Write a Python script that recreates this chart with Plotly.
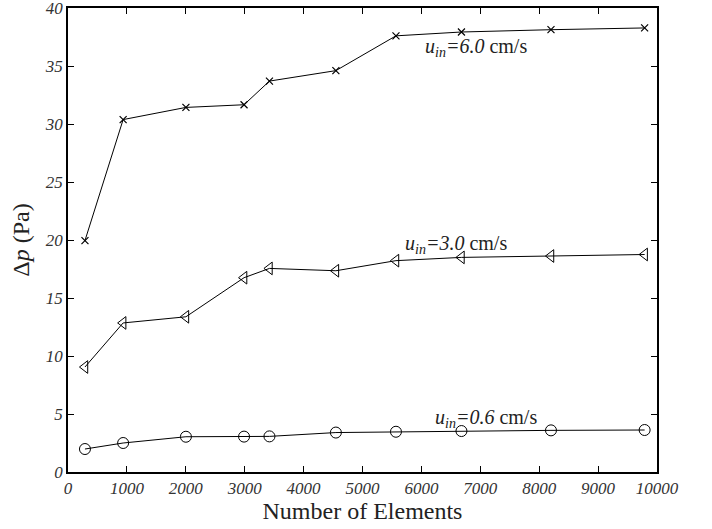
import plotly.graph_objects as go

elements = [288, 936, 2002, 2989, 3420, 4548, 5568, 6680, 8200, 9790]
dp_60 = [19.95, 30.38, 31.43, 31.66, 33.7, 34.6, 37.6, 37.93, 38.13, 38.28]
dp_30 = [9.05, 12.85, 13.38, 16.75, 17.55, 17.35, 18.22, 18.5, 18.62, 18.75]
dp_06 = [1.98, 2.5, 3.04, 3.05, 3.07, 3.4, 3.47, 3.53, 3.59, 3.62]

x_ticks = list(range(0, 10001, 1000))
y_ticks = list(range(0, 41, 5))

FONT = "Liberation Serif, Times New Roman, serif"

fig = go.Figure()
fig.add_trace(go.Scatter(x=elements, y=dp_60, mode="lines+markers",
                         line=dict(color="black", width=1),
                         marker=dict(symbol="x-thin", size=7, line=dict(color="black", width=1.2)),
                         showlegend=False))
fig.add_trace(go.Scatter(x=elements, y=dp_30, mode="lines+markers",
                         line=dict(color="black", width=1),
                         marker=dict(symbol="triangle-left-open", size=11, color="black", line=dict(width=1)),
                         showlegend=False))
fig.add_trace(go.Scatter(x=elements, y=dp_06, mode="lines+markers",
                         line=dict(color="black", width=1),
                         marker=dict(symbol="circle-open", size=11, color="black", line=dict(width=1)),
                         showlegend=False))

ann = [
    (6020, 36.6, "<i>u</i><sub><i>in</i></sub><i>=6.0</i> cm/s"),
    (5680, 19.6, "<i>u</i><sub><i>in</i></sub><i>=3.0</i> cm/s"),
    (6190, 4.6, "<i>u</i><sub><i>in</i></sub><i>=0.6</i> cm/s"),
]
for x, y, t in ann:
    fig.add_annotation(x=x, y=y, text=t, showarrow=False, xanchor="left", yanchor="middle",
                       font=dict(family=FONT, size=20, color="#222"))

axis_common = dict(showline=True, linecolor="black", linewidth=1.5, mirror="ticks",
                   ticks="inside", ticklen=6, tickcolor="black", tickwidth=1,
                   showgrid=False, zeroline=False, ticklabeloverflow="allow",
                   tickfont=dict(family=FONT, size=17, color="#333"))

fig.update_xaxes(range=[0, 10000], tickvals=x_ticks,
                 ticktext=[f"<i>{v}</i>" for v in x_ticks],
                 title=dict(text="Number of Elements", font=dict(family=FONT, size=24, color="#222"), standoff=4),
                 **axis_common)
fig.update_yaxes(range=[0, 40], tickvals=y_ticks,
                 ticktext=[f"<i>{v}</i>" for v in y_ticks],
                 title=dict(text="Δ<i>p</i> (Pa)", font=dict(family=FONT, size=24, color="#222"), standoff=8),
                 **axis_common)

fig.update_layout(width=712, height=529, template="none",
                  paper_bgcolor="white", plot_bgcolor="white",
                  font=dict(family=FONT),
                  margin=dict(l=68, r=55, t=8, b=57))

fig.write_html("out.html", config={"displayModeBar": False},
               post_script="document.body.style.margin='0';document.body.style.overflow='hidden';")
